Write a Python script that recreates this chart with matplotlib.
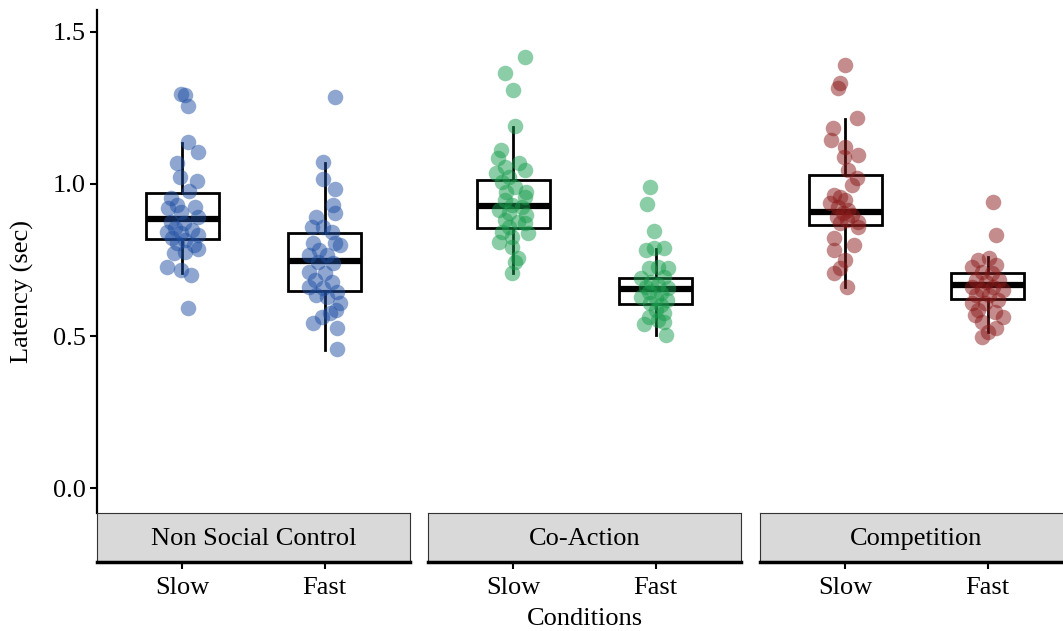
import numpy as np
import matplotlib
matplotlib.use("Agg")
import matplotlib.pyplot as plt

plt.rcParams['font.family'] = ['Liberation Serif', 'DejaVu Serif']
FS = 19

panels = ['Non Social Control', 'Co-Action', 'Competition']
levels = ['Slow', 'Fast']
colors = ['#1f4fa3', '#199d4e', '#8b1a1a']

# latency (sec) per participant, with the horizontal jitter
nsc_slow = [1.296, 1.293, 1.257, 1.138, 1.105, 1.069, 1.023, 1.010, 0.977, 0.954, 0.931,
            0.924, 0.921, 0.908, 0.891, 0.875, 0.872, 0.855, 0.849, 0.842, 0.839, 0.832,
            0.822, 0.816, 0.806, 0.799, 0.786, 0.773, 0.776, 0.727, 0.717, 0.701, 0.592]
nsc_slow_jit = [-0.01, 0.02, 0.04, 0.04, 0.11, -0.04, -0.02, 0.10, 0.05, -0.08, -0.04,
                0.09, -0.10, -0.01, 0.11, -0.08, 0.01, -0.05, 0.07, -0.11, -0.01, 0.11,
                -0.07, 0.02, -0.04, 0.08, 0.11, -0.06, 0.02, -0.11, -0.01, 0.06, 0.04]
nsc_fast = [1.286, 1.072, 1.016, 0.984, 0.931, 0.905, 0.892, 0.859, 0.859, 0.842, 0.806,
            0.806, 0.799, 0.783, 0.766, 0.766, 0.743, 0.740, 0.711, 0.707, 0.684, 0.678,
            0.661, 0.658, 0.645, 0.635, 0.628, 0.609, 0.586, 0.576, 0.563, 0.543, 0.526, 0.457]
nsc_fast_jit = [0.07, -0.01, -0.01, 0.07, 0.06, 0.07, -0.06, -0.09, -0.01, 0.05, -0.08,
                0.07, 0.11, -0.04, -0.11, 0.02, -0.05, 0.06, -0.11, 0.0, -0.07, 0.05,
                -0.11, -0.01, 0.09, -0.06, 0.02, 0.11, 0.08, 0.04, -0.02, -0.08, 0.09, 0.09]
coa_slow = [1.418, 1.365, 1.309, 1.191, 1.112, 1.086, 1.069, 1.056, 1.046, 1.036, 1.023,
            1.007, 0.990, 0.974, 0.974, 0.957, 0.947, 0.931, 0.924, 0.914, 0.905, 0.898,
            0.882, 0.875, 0.872, 0.859, 0.839, 0.842, 0.826, 0.809, 0.793, 0.757, 0.743, 0.707]
coa_slow_jit = [0.08, -0.06, 0.0, 0.01, -0.09, -0.11, 0.04, -0.06, 0.08, -0.12, -0.03,
                -0.08, 0.01, -0.05, 0.09, 0.08, -0.06, -0.01, 0.06, -0.10, -0.03, 0.09,
                -0.06, 0.03, 0.08, -0.03, 0.10, -0.08, -0.01, -0.10, -0.01, 0.03, 0.01, -0.01]
coa_fast = [0.990, 0.934, 0.845, 0.783, 0.789, 0.789, 0.724, 0.724, 0.727, 0.691, 0.694,
            0.678, 0.661, 0.668, 0.658, 0.645, 0.641, 0.628, 0.625, 0.618, 0.609, 0.602,
            0.586, 0.576, 0.563, 0.553, 0.539, 0.546, 0.503]
coa_fast_jit = [-0.04, -0.06, -0.01, -0.07, -0.01, 0.06, -0.05, 0.09, 0.02, -0.10, 0.06,
                -0.03, -0.07, 0.02, 0.09, -0.05, 0.04, -0.10, 0.0, 0.08, -0.04, 0.04,
                0.0, 0.06, -0.05, 0.02, -0.08, 0.06, 0.07]
com_slow = [1.391, 1.332, 1.316, 1.217, 1.184, 1.145, 1.122, 1.095, 1.089, 1.046, 1.020,
            0.997, 0.964, 0.957, 0.947, 0.938, 0.924, 0.914, 0.905, 0.898, 0.891, 0.882,
            0.875, 0.872, 0.859, 0.822, 0.799, 0.783, 0.750, 0.707, 0.724, 0.661]
com_slow_jit = [0.0, -0.04, -0.05, 0.08, -0.09, -0.10, 0.0, 0.09, -0.01, 0.02, 0.08,
                0.05, -0.08, -0.04, 0.0, -0.11, -0.05, 0.02, -0.02, 0.05, -0.06, 0.01,
                0.09, -0.04, 0.09, -0.08, 0.06, -0.08, 0.0, -0.08, -0.04, 0.01]
com_fast = [0.941, 0.832, 0.750, 0.757, 0.727, 0.734, 0.711, 0.707, 0.684, 0.684, 0.678,
            0.661, 0.661, 0.651, 0.651, 0.635, 0.635, 0.618, 0.609, 0.609, 0.586, 0.579,
            0.569, 0.563, 0.546, 0.526, 0.497, 0.513]
com_fast_jit = [0.04, 0.06, -0.07, 0.01, -0.11, 0.06, -0.04, 0.03, -0.08, 0.08, -0.01,
                -0.11, 0.04, -0.04, 0.11, -0.08, 0.01, 0.07, -0.11, -0.02, -0.07, 0.05,
                -0.09, 0.11, -0.04, 0.06, -0.04, 0.0]

# box summaries: lower whisker, q1, median, q3, upper whisker
box_nsc = [[0.706, 0.818, 0.884, 0.970, 1.134], [0.454, 0.649, 0.748, 0.840, 1.068]]
box_coa = [[0.706, 0.856, 0.929, 1.013, 1.186], [0.503, 0.604, 0.655, 0.690, 0.786]]
box_com = [[0.660, 0.865, 0.907, 1.030, 1.214], [0.514, 0.621, 0.668, 0.706, 0.761]]

points = [[(nsc_slow, nsc_slow_jit), (nsc_fast, nsc_fast_jit)],
          [(coa_slow, coa_slow_jit), (coa_fast, coa_fast_jit)],
          [(com_slow, com_slow_jit), (com_fast, com_fast_jit)]]
boxes = [box_nsc, box_coa, box_com]

W, H = 1063, 631
fig = plt.figure(figsize=(W / 100, H / 100), dpi=100)
lefts = [97, 428, 760]
pw = 313
for i, name in enumerate(panels):
    ax = fig.add_axes([lefts[i] / W, (H - 513) / H, pw / W, 503 / H])
    stats = []
    for j, b in enumerate(boxes[i]):
        stats.append(dict(whislo=b[0], q1=b[1], med=b[2], q3=b[3], whishi=b[4], label=levels[j]))
    ax.bxp(stats, positions=[1, 2], widths=0.51, showcaps=False, showfliers=False,
           patch_artist=True, manage_ticks=False,
           boxprops=dict(facecolor='white', edgecolor='black', linewidth=2),
           medianprops=dict(color='black', linewidth=4.5, solid_capstyle='butt'),
           whiskerprops=dict(color='black', linewidth=2))
    for j, (vals, jit) in enumerate(points[i]):
        x = j + 1 + np.array(jit)
        ax.scatter(x, vals, s=125, color=colors[i], alpha=0.5, linewidths=0, zorder=3)
    ax.set_xlim(0.4, 2.6)
    ax.set_ylim(-0.082, 1.572)
    ax.set_xticks([])
    for s in ['top', 'right', 'bottom']:
        ax.spines[s].set_visible(False)
    if i == 0:
        ax.spines['left'].set_linewidth(1.6)
        ax.set_yticks([0, 0.5, 1.0, 1.5])
        ax.set_yticklabels(['0.0', '0.5', '1.0', '1.5'])
        ax.tick_params(axis='y', length=5, width=1.5, pad=3, labelsize=FS, colors='black')
    else:
        ax.spines['left'].set_visible(False)
        ax.set_yticks([])

    # strip underneath the panel
    st = fig.add_axes([lefts[i] / W, (H - 562) / H, pw / W, 49 / H])
    st.set_facecolor('#d9d9d9')
    st.set_xlim(0.4, 2.6)
    st.set_ylim(0, 1)
    st.set_yticks([])
    st.set_xticks([1, 2])
    st.set_xticklabels(levels)
    st.tick_params(axis='x', length=5, width=1.5, pad=6, labelsize=FS)
    for s in ['top', 'left', 'right']:
        st.spines[s].set_color('#333333')
        st.spines[s].set_linewidth(0.8)
    st.spines['bottom'].set_linewidth(2.5)
    st.text(1.5, 0.47, name, ha='center', va='center', fontsize=FS)

fig.text(22 / W, 1 - 292 / H, 'Latency (sec)', rotation=90, ha='center', va='center', fontsize=FS)
fig.text(585 / W, 1 - 619 / H, 'Conditions', ha='center', va='center', fontsize=FS)

fig.savefig('out.png', dpi=100, facecolor='white')
